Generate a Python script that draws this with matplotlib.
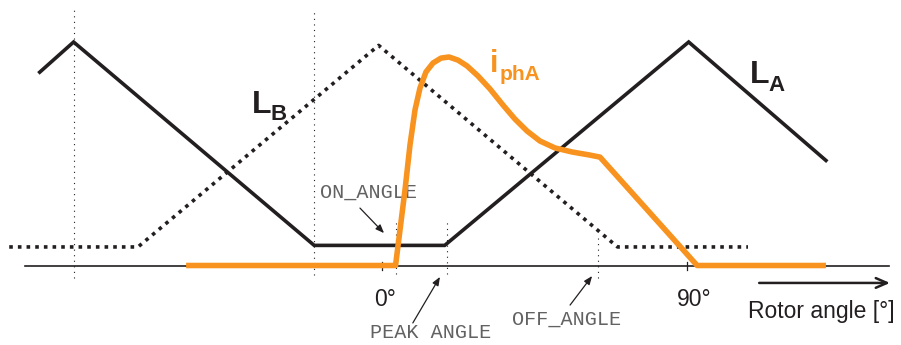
import matplotlib
matplotlib.use("Agg")
import matplotlib.pyplot as plt

# Rotor angle in electrical degrees, inductance / current normalised to L_max = 1
la_angle = [-101, -91, -20, 18.5, 90.5, 131]
la_value = [0.865, 1.0, 0.09, 0.09, 1.0, 0.47]

lb_angle = [-110, -72, -1, 69.5, 108]
lb_value = [0.083, 0.083, 0.985, 0.083, 0.083]

i_angle = [-57.8, 4.0, 6.79, 8.26, 9.74, 11.21, 12.98, 15.05, 17.41, 19.77,
           22.43, 25.09, 28.33, 31.87, 35.70, 39.25, 42.79, 46.62, 51.05,
           56.07, 61.38, 64.33, 93.0, 131.0]
i_value = [0.0, 0.0, 0.338, 0.539, 0.696, 0.794, 0.866, 0.906, 0.928, 0.933,
           0.919, 0.893, 0.848, 0.790, 0.718, 0.655, 0.602, 0.557, 0.526,
           0.508, 0.494, 0.485, 0.0, 0.0]

# Reference verticals: angle, lower end, upper end
guide_angle = [-91, -20, 4.2, 19.2, 63.7]
guide_low = [-0.056, -0.043, -0.04, -0.04, -0.056]
guide_high = [1.143, 1.143, 0.205, 0.205, 0.14]

tick_angles = [0, 90]
tick_labels = ["0°", "90°"]

ORANGE = "#F7931E"
DARK = "#231F20"
GREY = "#626262"

fig = plt.figure(figsize=(9.01, 3.45), dpi=100)
ax = fig.add_axes([0, 0, 1, 1])
ax.set_xlim(-112.72, 153.15)
ax.set_ylim(-0.3557, 1.188)
ax.axis("off")

# guide lines
for a, lo, hi in zip(guide_angle, guide_low, guide_high):
    ax.plot([a, a], [lo, hi], color=DARK, lw=0.8, linestyle=(0, (1, 4)),
            zorder=1)

# angle axis
ax.plot([-105.3, 149.6], [0, 0], color=DARK, lw=1.2, zorder=2)
for a in tick_angles:
    ax.plot([a, a], [-0.02, 0.016], color=DARK, lw=0.9, zorder=2)
for a, t in zip(tick_angles, tick_labels):
    ax.text(a + 0.9 + (1.2 if a else 0), -0.181, t, ha="center", va="baseline",
            fontsize=16.5, family="Liberation Sans", color=DARK)

# inductance profiles
ax.plot(lb_angle, lb_value, color=DARK, lw=2.6, linestyle=(0, (1, 1.4)),
        dash_capstyle="butt", zorder=3)
ax.plot(la_angle, la_value, color=DARK, lw=2.6, solid_joinstyle="miter",
        zorder=3)

# phase current
ax.plot(i_angle, i_value, color=ORANGE, lw=4.0, solid_joinstyle="round",
        solid_capstyle="butt", zorder=4)

# curve labels
bold = dict(family="Liberation Sans", fontweight="bold", va="baseline")
ax.text(108.6, 0.817, "L", fontsize=23, color=DARK, **bold)
ax.text(113.9, 0.781, "A", fontsize=16, color=DARK, **bold)
ax.text(-38.4, 0.682, "L", fontsize=23, color=DARK, **bold)
ax.text(-33.0, 0.651, "B", fontsize=16, color=DARK, **bold)
ax.text(31.9, 0.866, "i", fontsize=22, color=ORANGE, **bold)
ax.text(34.8, 0.83, "phA", fontsize=15, color=ORANGE, **bold)

# angle annotations
mono = dict(family="Liberation Mono", fontsize=14.5, color=GREY, va="baseline",
            ha="left")
ax.text(-18.3, 0.302, "ON_ANGLE", **mono)
ax.text(-3.5, -0.325, "PEAK ANGLE", **mono)
ax.text(38.4, -0.266, "OFF_ANGLE", **mono)

arrow = dict(arrowstyle="-|>,head_length=0.5,head_width=0.2", color=DARK,
             lw=0.9, shrinkA=0, shrinkB=0)
ax.annotate("", xy=(0.6, 0.145), xytext=(-6.5, 0.257), arrowprops=arrow)
ax.annotate("", xy=(17.1, -0.051), xytext=(9.1, -0.257), arrowprops=arrow)
ax.annotate("", xy=(62.0, -0.047), xytext=(55.5, -0.177), arrowprops=arrow)

# rotor angle direction
ax.annotate("", xy=(149.9, -0.078), xytext=(111.3, -0.078),
            arrowprops=dict(arrowstyle="->,head_length=0.8,head_width=0.35",
                            color=DARK, lw=1.8, shrinkA=0, shrinkB=0))
ax.text(108.0, -0.235, "Rotor angle [°]", ha="left", va="baseline",
        fontsize=16.5, family="Liberation Sans", color=DARK)

fig.savefig("out.png", dpi=100)
